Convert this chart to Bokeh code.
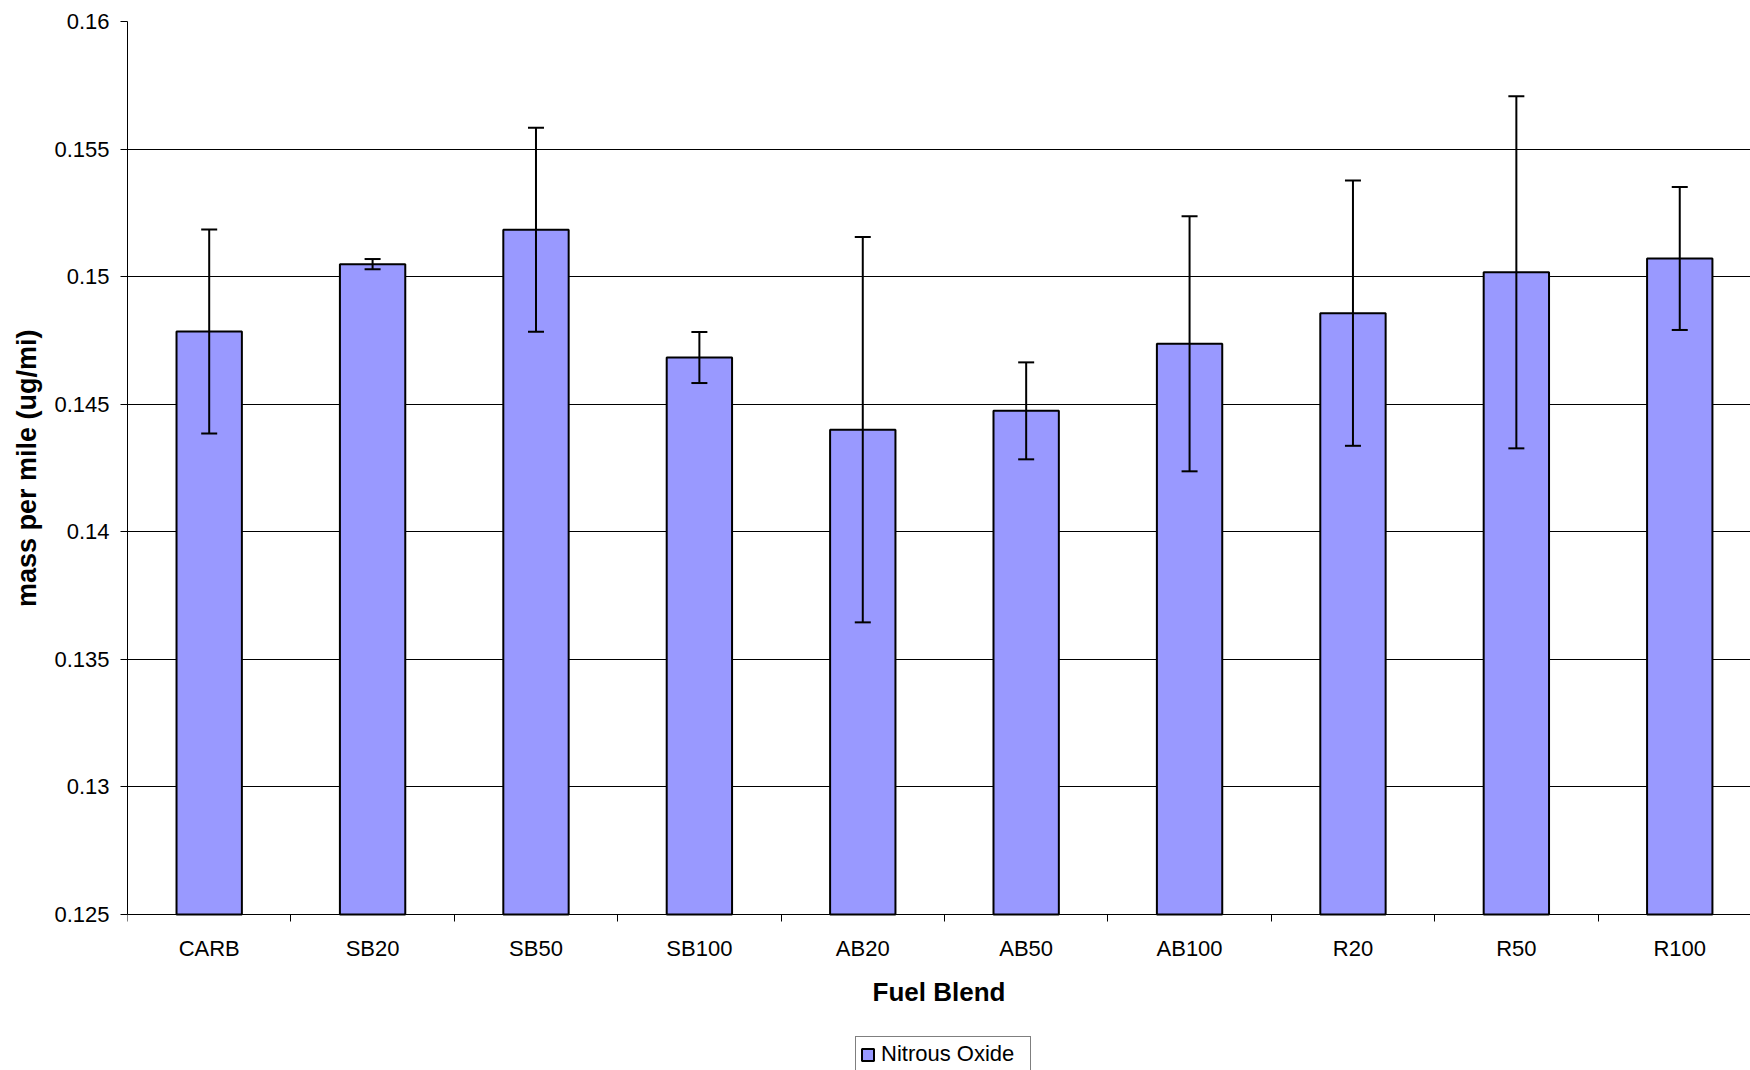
from bokeh.plotting import figure
from bokeh.models import (ColumnDataSource, FixedTicker, Range1d, Whisker, TeeHead,
                          Legend, LegendItem, Title)
from bokeh.embed import file_html
from bokeh.resources import INLINE

# ---- data ----
categories = ["CARB", "SB20", "SB50", "SB100", "AB20", "AB50", "AB100", "R20", "R50", "R100"]
nitrous_oxide = [0.14785, 0.15049, 0.15184, 0.14683, 0.14400, 0.14474, 0.14737, 0.14857, 0.15017, 0.15071]
error = [0.0040, 0.0002, 0.0040, 0.0010, 0.00755, 0.0019, 0.0050, 0.0052, 0.0069, 0.0028]
y_ticks = [0.125, 0.13, 0.135, 0.14, 0.145, 0.15, 0.155, 0.16]
y_tick_labels = ["0.125", "0.13", "0.135", "0.14", "0.145", "0.15", "0.155", "0.16"]

FONT = "Liberation Sans"
Y_MIN, Y_MAX = 0.125, 0.16
AXIS_PX, FRAME_PX = 893, 1049   # value axis height vs. frame height (frame extends under the x axis)
y_start = Y_MAX - (Y_MAX - Y_MIN) * FRAME_PX / AXIS_PX

xs = [i + 0.5 for i in range(len(categories))]
src = ColumnDataSource(dict(
    x=xs, top=nitrous_oxide,
    upper=[v + e for v, e in zip(nitrous_oxide, error)],
    lower=[v - e for v, e in zip(nitrous_oxide, error)],
))

p = figure(width=1750, height=1070, output_backend="svg", toolbar_location=None,
           x_range=Range1d(0, 9.933), y_range=Range1d(y_start, Y_MAX),
           min_border_left=127, min_border_right=0, min_border_top=21, min_border_bottom=0,
           background_fill_color="white", border_fill_color="white")
p.outline_line_color = None

bars = p.vbar(x="x", top="top", bottom=Y_MIN, width=0.4, source=src,
              fill_color="#9999FF", line_color="black", line_width=2)

whisk = Whisker(base="x", upper="upper", lower="lower", source=src,
                line_color="black", line_width=2, level="overlay",
                upper_head=TeeHead(size=16, line_color="black", line_width=2),
                lower_head=TeeHead(size=16, line_color="black", line_width=2))
p.add_layout(whisk)

# x axis (drawn at the value-axis baseline)
xa = p.xaxis[0]
xa.fixed_location = Y_MIN
xa.ticker = FixedTicker(ticks=xs, minor_ticks=list(range(len(categories) + 1)))
xa.major_label_overrides = {x: c for x, c in zip(xs, categories)}
xa.major_tick_out = 0
xa.major_tick_in = 0
xa.minor_tick_out = 7
xa.minor_tick_in = 0
xa.minor_tick_line_color = "black"
xa.axis_line_color = "black"
xa.major_label_text_font = FONT
xa.major_label_text_font_size = "22px"
xa.major_label_text_color = "black"
xa.major_label_standoff = 14
xa.axis_label = "Fuel Blend"
xa.axis_label_text_font = FONT
xa.axis_label_text_font_size = "26px"
xa.axis_label_text_font_style = "bold"
xa.axis_label_text_color = "black"
xa.axis_label_standoff = 13

# y axis
ya = p.yaxis[0]
ya.bounds = (Y_MIN, Y_MAX)
ya.ticker = FixedTicker(ticks=y_ticks)
ya.major_label_overrides = {t: l for t, l in zip(y_ticks, y_tick_labels)}
ya.major_tick_out = 7
ya.major_tick_in = 0
ya.minor_tick_line_color = None
ya.major_tick_line_color = "black"
ya.axis_line_color = "black"
ya.major_label_text_font = FONT
ya.major_label_text_font_size = "22px"
ya.major_label_text_color = "black"
ya.major_label_standoff = 11

# y axis title, centred on the value axis (not on the whole frame)
ytitle = Title(text="mass per mile (ug/mi)", align="right", offset=308,
               vertical_align="middle", standoff=18,
               text_font=FONT, text_font_size="27px", text_font_style="bold",
               text_color="black")
p.add_layout(ytitle, "left")

p.xgrid.grid_line_color = None
p.ygrid.ticker = FixedTicker(ticks=y_ticks)
p.ygrid.grid_line_color = "black"
p.ygrid.grid_line_width = 1

legend = Legend(items=[LegendItem(label="Nitrous Oxide", renderers=[bars])],
                location=(728, -2), orientation="vertical",
                padding=4, margin=0, spacing=0,
                glyph_width=15, glyph_height=15, label_standoff=6, label_height=22,
                label_width=145,
                label_text_font=FONT, label_text_font_size="22px", label_text_color="black",
                border_line_color="black", border_line_width=1,
                background_fill_color="white", background_fill_alpha=1)
p.add_layout(legend)

open("out.html", "w").write(file_html(p, INLINE))
